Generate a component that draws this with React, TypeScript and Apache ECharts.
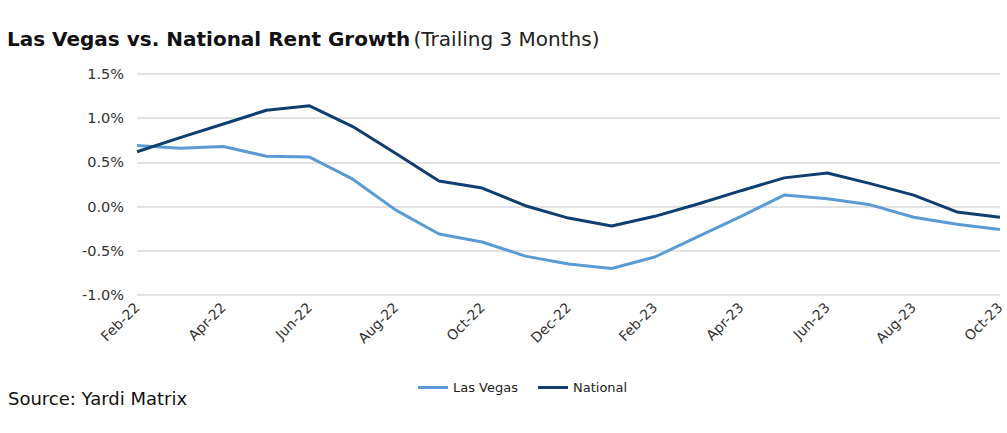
import React, { useEffect, useRef } from "react";
import * as echarts from "echarts";

const months = [
  "Feb-22", "Mar-22", "Apr-22", "May-22", "Jun-22", "Jul-22", "Aug-22", "Sep-22", "Oct-22", "Nov-22", "Dec-22",
  "Jan-23", "Feb-23", "Mar-23", "Apr-23", "May-23", "Jun-23", "Jul-23", "Aug-23", "Sep-23", "Oct-23",
];
const lasVegas = [0.69, 0.66, 0.68, 0.57, 0.56, 0.31, -0.04, -0.31, -0.4, -0.56, -0.65, -0.7, -0.57, -0.34, -0.11, 0.13, 0.09, 0.02, -0.12, -0.2, -0.26];
const national = [0.62, 0.78, 0.935, 1.09, 1.14, 0.905, 0.6, 0.29, 0.21, 0.01, -0.13, -0.22, -0.11, 0.03, 0.18, 0.325, 0.38, 0.26, 0.13, -0.06, -0.12];

const FONT = "'DejaVu Sans', 'Open Sans', sans-serif";

export default function App() {
  const ref = useRef<HTMLDivElement>(null);
  useEffect(() => {
    if (!ref.current) return;
    const chart = echarts.init(ref.current, undefined, { renderer: "svg" });
    chart.setOption({
      animation: false,
      textStyle: { fontFamily: FONT },
      graphic: [
        {
          type: "text",
          left: 7,
          top: 29,
          style: {
            rich: {
              b: { fontSize: 20, fontWeight: "bold", fontFamily: FONT, fill: "#111" },
              n: { fontSize: 20, fontFamily: FONT, fill: "#222" },
            },
            text: "{b|Las Vegas vs. National Rent Growth} {n|(Trailing 3 Months)}",
          },
        },
        {
          type: "text",
          left: 8,
          top: 389,
          style: { text: "Source: Yardi Matrix", fontSize: 18, fontFamily: FONT, fill: "#111" },
        },
      ],
      legend: {
        data: ["Las Vegas", "National"],
        left: 413,
        top: 376,
        itemWidth: 30,
        itemHeight: 3,
        itemGap: 20,
        icon: "rect",
        textStyle: { fontSize: 13, color: "#222", fontFamily: FONT },
      },
      grid: { left: 137, right: 7, top: 74, bottom: 138 },
      xAxis: {
        type: "category",
        data: months,
        boundaryGap: false,
        axisLine: { show: false },
        axisTick: { show: false },
        axisLabel: {
          interval: 1,
          rotate: 45,
          fontSize: 14,
          color: "#333",
          margin: 10,
          fontFamily: FONT,
        },
      },
      yAxis: {
        type: "value",
        min: -1,
        max: 1.5,
        interval: 0.5,
        axisLine: { show: false },
        axisTick: { show: false },
        splitLine: { lineStyle: { color: "#d9d9d9", width: 1.5 } },
        axisLabel: {
          formatter: (v: number) => v.toFixed(1) + "%",
          fontSize: 14.5,
          color: "#333",
          margin: 13,
          fontFamily: FONT,
        },
      },
      series: [
        {
          name: "Las Vegas",
          type: "line",
          data: lasVegas,
          symbol: "none",
          lineStyle: { color: "#5B9BD5", width: 3 },
          itemStyle: { color: "#5B9BD5" },
        },
        {
          name: "National",
          type: "line",
          data: national,
          symbol: "none",
          lineStyle: { color: "#0E3F70", width: 3 },
          itemStyle: { color: "#0E3F70" },
        },
      ],
    });
    return () => chart.dispose();
  }, []);
  return <div ref={ref} style={{ width: 1007, height: 433, position: "absolute", left: 0, top: 0 }} />;
}
